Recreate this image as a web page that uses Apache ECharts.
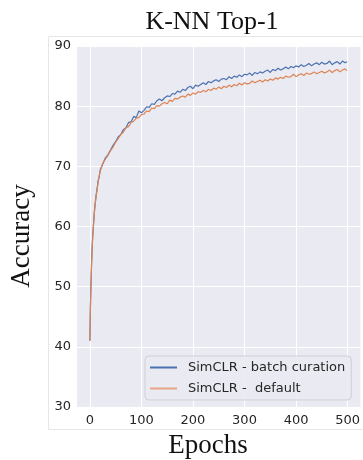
<!DOCTYPE html>
<html>
<head>
<meta charset="utf-8">
<script src="https://cdn.jsdelivr.net/npm/echarts@6/dist/echarts.min.js"></script>
<style>
  html, body { margin: 0; padding: 0; background: #fff; }
  #chart { width: 363px; height: 460px; }
</style>
</head>
<body>
<div id="chart"></div>
<script>
// epochs sampled from the reference curves
const epochs = [0, 1, 2, 3, 4, 5, 6, 7, 8, 9, 10, 12, 14, 16, 18, 20,
  25, 30, 35, 40, 45, 50, 55, 60, 65, 70, 75, 80, 85, 90, 95, 100,
  105, 110, 115, 120, 125, 130, 135, 140, 145, 150, 155, 160, 165, 170, 175, 180,
  185, 190, 195, 200, 205, 210, 215, 220, 225, 230, 235, 240, 245, 250, 255, 260,
  265, 270, 275, 280, 285, 290, 295, 300, 305, 310, 315, 320, 325, 330, 335, 340,
  345, 350, 355, 360, 365, 370, 375, 380, 385, 390, 395, 400, 405, 410, 415, 420,
  425, 430, 435, 440, 445, 450, 455, 460, 465, 470, 475, 480, 485, 490, 495, 499];

const batchCuration = [41.0, 46.3, 50.1, 53.2, 55.6, 57.6, 59.1, 60.4, 61.6, 62.8, 63.6, 65.1, 66.3, 67.6, 68.2, 69.4,
  70.4, 71.4, 71.9, 72.7, 73.5, 74.1, 74.9, 75.3, 76.1, 76.4, 77.3, 77.4, 78.3, 78.1, 79.2, 78.9,
  79.3, 79.9, 79.8, 80.4, 80.3, 80.9, 81.2, 80.9, 81.4, 81.7, 81.6, 82.1, 82.0, 82.5, 82.3, 82.8,
  82.6, 83.1, 83.3, 82.9, 83.5, 83.3, 83.6, 83.9, 83.6, 84.1, 83.9, 84.2, 84.4, 84.1, 84.5, 84.6,
  84.4, 84.9, 84.6, 85.0, 84.8, 85.2, 84.9, 85.3, 85.2, 85.5, 85.1, 85.6, 85.4, 85.7, 85.5, 85.8,
  86.0, 85.6, 86.1, 85.9, 86.3, 86.0, 86.2, 86.5, 86.2, 86.6, 86.4, 86.7, 86.5, 86.9, 86.6, 86.8,
  87.1, 86.7, 87.0, 87.2, 86.9, 87.3, 87.0, 87.1, 87.5, 86.9, 87.2, 87.4, 87.0, 87.5, 87.2, 87.4];

const defaultRun = [41.0, 46.5, 50.2, 53.0, 55.4, 57.5, 59.0, 60.2, 61.4, 62.5, 63.5, 65.0, 66.1, 67.4, 68.4, 69.2,
  70.5, 71.2, 71.8, 72.6, 73.2, 74.0, 74.6, 75.3, 75.7, 76.4, 76.6, 77.3, 77.5, 78.0, 78.1, 78.6,
  78.7, 79.2, 79.1, 79.7, 79.6, 80.1, 80.0, 80.4, 80.6, 80.4, 81.0, 80.8, 81.3, 81.2, 81.5, 81.7,
  81.5, 82.0, 81.8, 82.2, 82.0, 82.4, 82.3, 82.6, 82.4, 82.8, 82.6, 83.0, 82.8, 83.2, 82.9, 83.3,
  83.1, 83.5, 83.2, 83.6, 83.4, 83.8, 83.5, 83.9, 83.7, 83.8, 84.2, 83.9, 84.1, 84.3, 84.0, 84.4,
  84.2, 84.5, 84.3, 84.7, 84.5, 84.8, 84.6, 85.0, 84.8, 84.9, 85.3, 84.9, 85.2, 85.4, 85.1, 85.5,
  85.3, 85.4, 85.7, 85.4, 85.6, 85.8, 85.5, 85.7, 86.0, 85.6, 85.9, 86.1, 85.7, 86.0, 86.2, 85.9];

const xTicks = [0, 100, 200, 300, 400, 500];
const names = ["SimCLR - batch curation", "SimCLR -  default"];
const colors = ["#4c72b0", "#dd8452"];

const serif = "'Liberation Serif', 'DejaVu Serif', serif";
const sans = "'DejaVu Sans', sans-serif";

const chart = echarts.init(document.getElementById("chart"));

chart.setOption({
  animation: false,
  title: {
    text: "K-NN Top-1",
    left: 207,
    top: 4,
    textAlign: "center",
    textStyle: { fontFamily: serif, fontSize: 26, fontWeight: "normal", color: "#111" },
  },
  graphic: [
    {
      type: "rect",
      shape: { x: 48.5, y: 36.5, width: 330, height: 393 },
      style: { fill: "none", stroke: "#e6e6e6", lineWidth: 1 },
      z: -1,
    },
    {
      type: "text",
      x: 22,
      y: 236,
      rotation: Math.PI / 2,
      style: {
        text: "Accuracy",
        font: "27px " + serif,
        fill: "#111",
        textAlign: "center",
        textVerticalAlign: "middle",
      },
    },
    {
      type: "text",
      x: 208,
      y: 446,
      style: {
        text: "Epochs",
        font: "27px " + serif,
        fill: "#111",
        textAlign: "center",
        textVerticalAlign: "middle",
      },
    },
  ],
  grid: {
    left: 77,
    right: 2,
    top: 46,
    bottom: 53,
    show: true,
    backgroundColor: "#eaeaf2",
    borderWidth: 0,
  },
  legend: {
    left: 145,
    top: 356,
    orient: "vertical",
    itemWidth: 27,
    itemHeight: 2,
    itemGap: 6,
    padding: [4, 6, 4, 5],
    backgroundColor: "rgba(234,234,242,0.85)",
    borderColor: "#cfcfd6",
    borderWidth: 1,
    borderRadius: 4,
    icon: "rect",
    textStyle: {
      fontFamily: sans,
      fontSize: 13,
      color: "#262626",
      lineHeight: 15,
      padding: [0, 0, 0, 6],
    },
    data: [
      { name: names[0], itemStyle: { color: colors[0] } },
      { name: names[1], itemStyle: { color: "#e9a686" } },
    ],
  },
  xAxis: {
    type: "value",
    min: -25,
    max: 525,
    axisLine: { show: false },
    axisTick: { show: false, customValues: xTicks },
    axisLabel: {
      customValues: xTicks,
      color: "#262626",
      fontFamily: sans,
      fontSize: 13,
      margin: 7,
    },
    splitLine: { show: true, lineStyle: { color: "#ffffff", width: 1 } },
  },
  yAxis: {
    type: "value",
    min: 30,
    max: 90,
    interval: 10,
    axisLine: { show: false },
    axisTick: { show: false },
    axisLabel: {
      color: "#262626",
      fontFamily: sans,
      fontSize: 13,
      margin: 6,
    },
    splitLine: { show: true, lineStyle: { color: "#ffffff", width: 1 } },
  },
  series: [
    {
      name: names[0],
      type: "line",
      symbol: "none",
      data: epochs.map((e, i) => [e, batchCuration[i]]),
      lineStyle: { color: colors[0], width: 1.2 },
      itemStyle: { color: colors[0] },
    },
    {
      name: names[1],
      type: "line",
      symbol: "none",
      data: epochs.map((e, i) => [e, defaultRun[i]]),
      lineStyle: { color: colors[1], width: 1.2 },
      itemStyle: { color: colors[1] },
    },
  ],
});
</script>
</body>
</html>
